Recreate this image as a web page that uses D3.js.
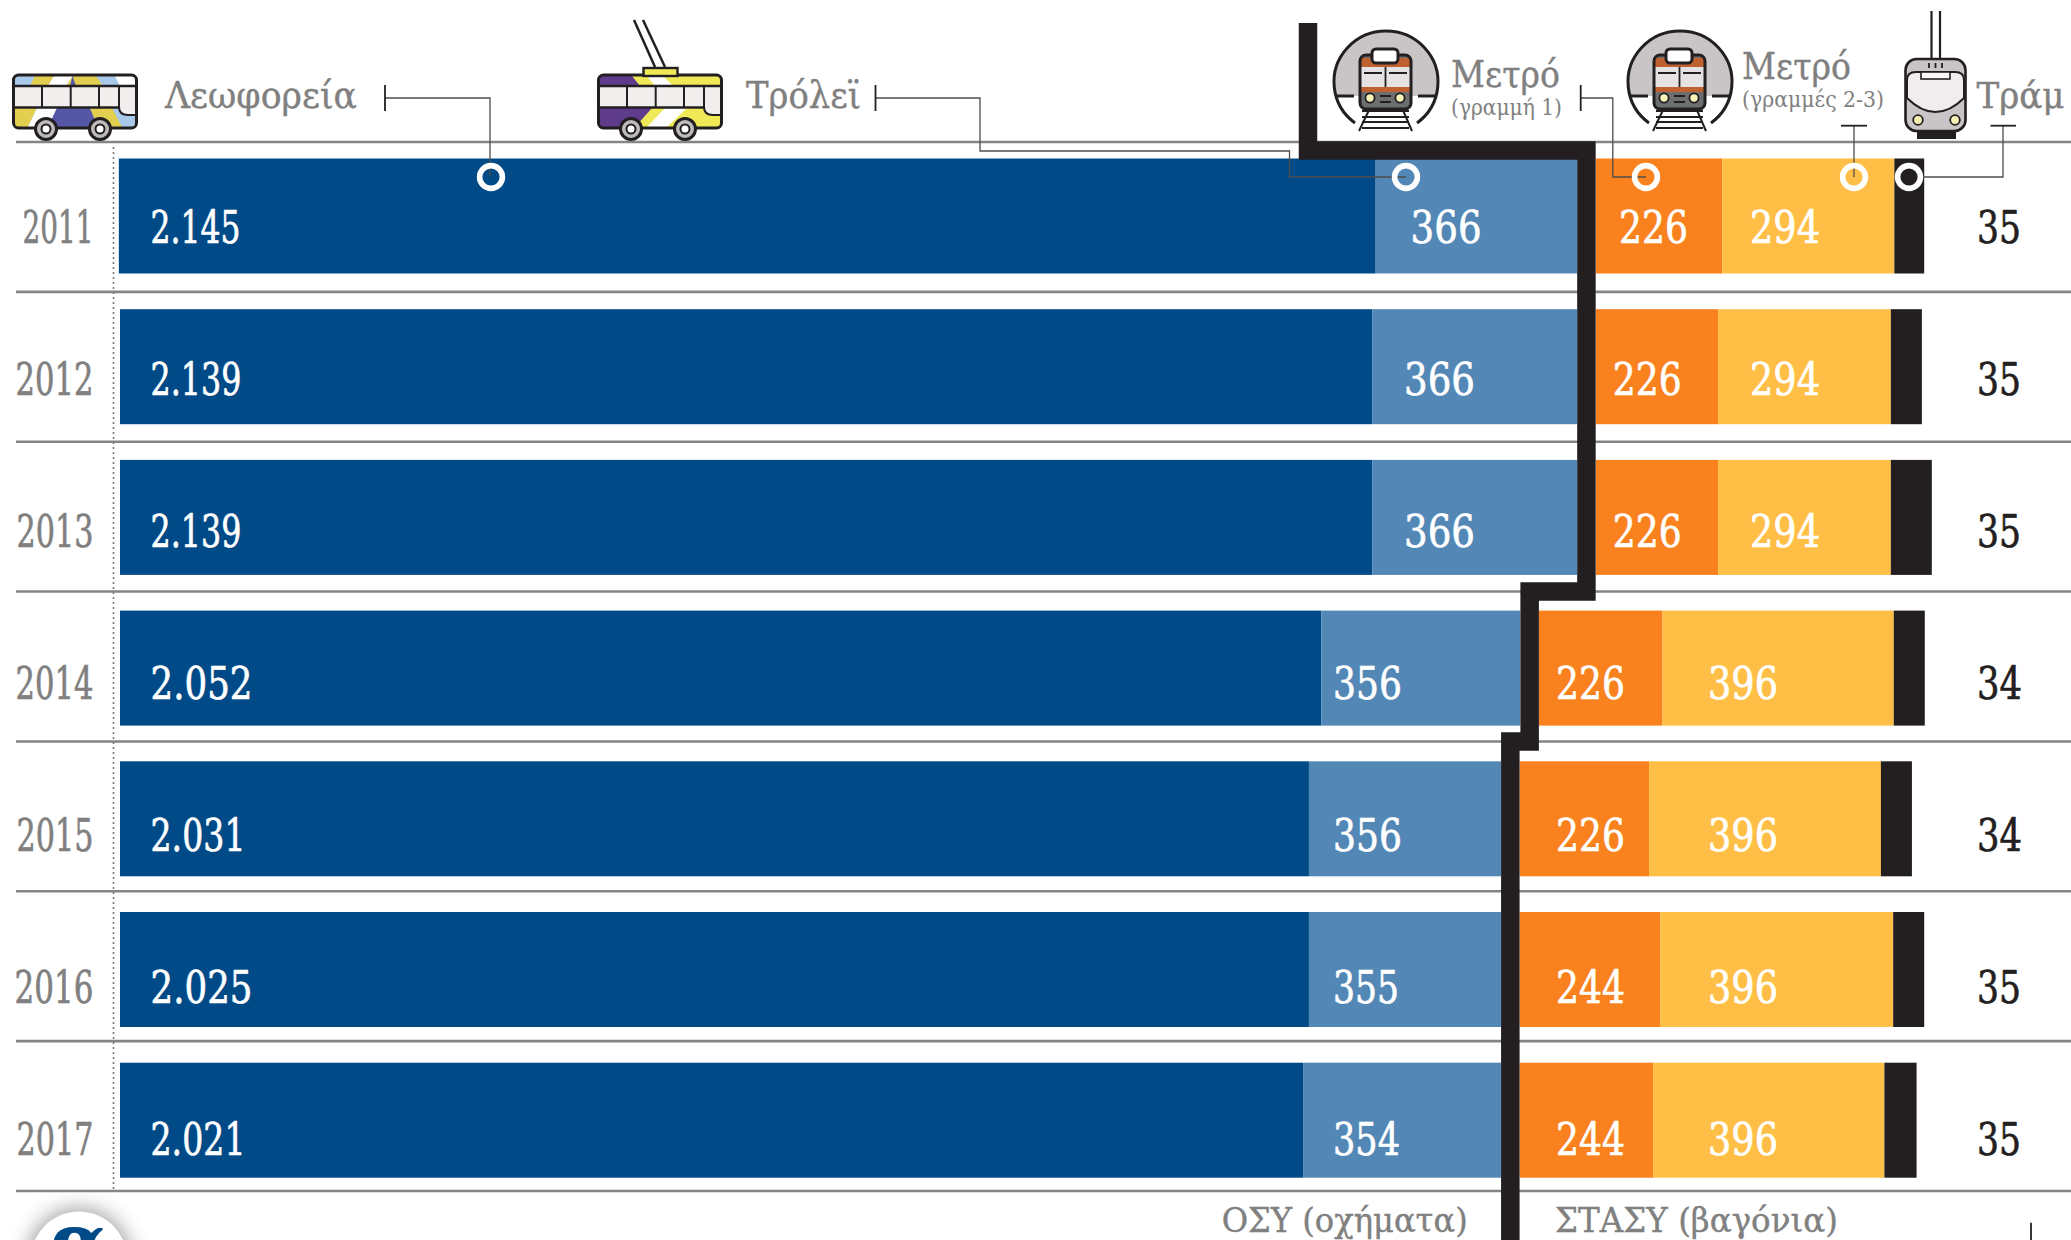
<!DOCTYPE html>
<html><head><meta charset="utf-8">
<style>html,body{margin:0;padding:0;background:#fff}svg{display:block}text{font-family:"DejaVu Serif",serif}</style>
<script src="https://cdn.jsdelivr.net/npm/d3@7"></script></head><body><div id="c"></div>
<script>
// Printed values
const years = ["2011","2012","2013","2014","2015","2016","2017"];
const busValues = ["2.145","2.139","2.139","2.052","2.031","2.025","2.021"];
const trolleyValues = [366,366,366,356,356,355,354];
const metro1Values = [226,226,226,226,226,244,244];
const metro23Values = [294,294,294,396,396,396,396];
const tramValues = [35,35,35,34,34,35,35];
// Bar lengths (the source bars are not strictly proportional to their labels)
const busLengths = [2145,2139,2139,2052,2031,2031,2021];
const trolleyLengths = [344,350,350,340,328,328,338];
const metro1Lengths = [216,209,209,211,221,240,228];
const metro23Lengths = [294,295,295,395,396,398,395];
const tramLengths = [51,53,70,53,53,53,55];
const dividerGap = 32;

const W=2071,H=1240, INK="#231f20", GREY="#808080";
const colors={bus:"#004a87",trolley:"#5287b6",metro1:"#f9821e",metro23:"#ffbf46",tram:INK};
const svg=d3.select("#c").append("svg").attr("width",W).attr("height",H).attr("viewBox",`0 0 ${W} ${H}`);
const defs=svg.append("defs");
const f=defs.append("filter").attr("id","sh").attr("x","-40%").attr("y","-40%").attr("width","180%").attr("height","180%");
f.append("feGaussianBlur").attr("stdDeviation",10);

const x=d3.scaleLinear().domain([0,3300]).range([120,120+3300*0.5854]);
const y=d3.scaleBand().domain(years).range([158.5,1177.7]).paddingInner(35.7/150.7).paddingOuter(0);

// rules
const ruleY=d3.scaleLinear().domain([0,7]).range([142,1191]);
svg.append("g").selectAll("line").data(d3.range(8)).join("line")
 .attr("x1",16).attr("x2",W).attr("y1",d=>ruleY(d)).attr("y2",d=>ruleY(d)).attr("stroke","#858585").attr("stroke-width",2.6);
svg.append("line").attr("x1",113.5).attr("x2",113.5).attr("y1",147).attr("y2",1190)
 .attr("stroke","#7a7a7a").attr("stroke-width",1.6).attr("stroke-dasharray","2 3");

// stacks
const rows=years.map((yr,i)=>{
  const a=busLengths[i], b=a+trolleyLengths[i], c=b+dividerGap, d=c+metro1Lengths[i], e=d+metro23Lengths[i], g=e+tramLengths[i];
  return {yr,i,segs:[[i===0?-2:0,a,colors.bus],[a,b,colors.trolley],[c,d,colors.metro1],[d,e,colors.metro23],[e,g,colors.tram]],b,c};
});
const rowG=svg.append("g").selectAll("g").data(rows).join("g");
rowG.selectAll("rect").data(d=>d.segs.map(s=>({s,yr:d.yr}))).join("rect")
 .attr("x",d=>x(d.s[0])).attr("width",d=>x(d.s[1])-x(d.s[0]))
 .attr("y",d=>y(d.yr)).attr("height",y.bandwidth()).attr("fill",d=>d.s[2]);

// stepped divider between OSY and STASY
const dm=rows.map(r=>x((r.b+r.c)/2));
const pts=[[1308,23],[1308,150.5],[dm[0],150.5],[dm[0],591.5],[dm[3],591.5],[dm[3],741.5],[dm[4],741.5],[dm[4],H+5]];
svg.append("path").attr("d",d3.line()(pts)).attr("fill","none").attr("stroke",INK).attr("stroke-width",18.5).attr("stroke-linejoin","miter");

// labels
const baseY=i=>242.5+i*152.1;
function fit(sel,str,px,py,w,fill,size,anchor,sw){
  return sel.append("text").attr("x",px).attr("y",py).attr("fill",fill).attr("font-size",size)
   .attr("text-anchor",anchor||"start").attr("stroke",sw?fill:"none").attr("stroke-width",sw||0)
   .attr("textLength",w).attr("lengthAdjust","spacingAndGlyphs").text(str);
}
const tg=svg.append("g");
const trolleyLabelX=[1410.6,1404,1404,1333,1333,1333,1333];
const metro1LabelX=[1619,1612.7,1612.7,1556,1556,1556,1556];
const metro23LabelX=[1750,1750,1750,1708,1708,1708,1708];
const yearW=[71,78,77,78,77,79,77], busW=[90,91,91,102,95,102,95], trolleyW=[71,71,71,69,69,66,67], tramW=[44,44,44,45,45,44,44];
const NUM=45, SW=.7;
years.forEach((yr,i)=>{
  const b=baseY(i);
  fit(tg,yr,93.5,b,yearW[i],GREY,NUM,"end",SW);
  fit(tg,busValues[i],150.5,b,busW[i],"#fff",NUM,"start",SW);
  fit(tg,trolleyValues[i],trolleyLabelX[i],b,trolleyW[i],"#fff",NUM,"start",SW);
  fit(tg,metro1Values[i],metro1LabelX[i],b,69,"#fff",NUM,"start",SW);
  fit(tg,metro23Values[i],metro23LabelX[i],b,70,"#fff",NUM,"start",SW);
  fit(tg,tramValues[i],1977,b,tramW[i],INK,NUM,"start",SW);
});

// header texts
const HD=38;
fit(tg,"Λεωφορεία",165,107.7,192,GREY,HD,"start",.4);
fit(tg,"Τρόλεϊ",746,107.7,115,GREY,HD,"start",.4);
fit(tg,"Μετρό",1451,86.7,109,GREY,HD,"start",.4);
fit(tg,"(γραμμή 1)",1451,115,111,GREY,23);
fit(tg,"Μετρό",1742,79,109,GREY,HD,"start",.4);
fit(tg,"(γραμμές 2-3)",1742,107,142,GREY,23);
fit(tg,"Τράμ",1976.5,107.7,88,GREY,35,"start",.4);
fit(tg,"ΟΣΥ (οχήματα)",1221.7,1232,246,GREY,33,"start",.4);
fit(tg,"ΣΤΑΣΥ (βαγόνια)",1555,1232,283,GREY,33,"start",.4);

// leader lines
const lead=svg.append("g").attr("fill","none").attr("stroke","#4d4d4d").attr("stroke-width",1.3);
[
 [[385,98],[490,98],[490,177]],
 [[875.5,98],[980,98],[980,151],[1289.5,151],[1289.5,177],[1406,177]],
 [[1580.7,98],[1612.8,98],[1612.8,177],[1646,177]],
 [[1854,125.7],[1854,177]],
 [[2003,125.7],[2003,177],[1909,177]]
].forEach(p=>lead.append("path").attr("d",d3.line()(p)));
const tick=svg.append("g").attr("stroke",INK).attr("stroke-width",1.8);
[[385,85,385,111],[875.5,85,875.5,111],[1580.7,85,1580.7,111],[1841,125.7,1867,125.7],[1990.5,125.7,2016,125.7],[2031,1222.7,2031,1245]]
 .forEach(l=>tick.append("line").attr("x1",l[0]).attr("y1",l[1]).attr("x2",l[2]).attr("y2",l[3]));
// ring markers
const ringData=[{cx:491,f:"none"},{cx:1406,f:"none"},{cx:1646,f:"none"},{cx:1854,f:"none"},{cx:1909,f:INK}];
svg.append("g").selectAll("circle").data(ringData).join("circle")
 .attr("cx",d=>d.cx).attr("cy",177).attr("r",11.4).attr("fill",d=>d.f).attr("stroke","#fff").attr("stroke-width",5.6);

// ---- icons ----
function vehicle(dx,top,low){
  const g=svg.append("g").attr("transform",`translate(${dx},0)`);
  g.append("rect").attr("x",13.5).attr("y",75).attr("width",123).attr("height",53).attr("rx",5).attr("fill","#fff");
  const poly=(pts,c)=>g.append("polygon").attr("points",pts).attr("fill",c);
  top.forEach(t=>poly(t[0],t[1]));
  low.forEach(t=>poly(t[0],t[1]));
  g.append("rect").attr("x",13.5).attr("y",86).attr("width",123).attr("height",22).attr("fill","#f1eeee");
  g.append("path").attr("d","M119,86V107Q119,115 128,115H136V86Z").attr("fill","#f1eeee");
  g.append("path").attr("d","M119,86V107Q119,115 128,115H136").attr("fill","none").attr("stroke",INK).attr("stroke-width",2);
  g.append("rect").attr("x",13.5).attr("y",75).attr("width",123).attr("height",53).attr("rx",5).attr("fill","none").attr("stroke",INK).attr("stroke-width",3);
  [86,107.5].forEach(yy=>g.append("line").attr("x1",13.5).attr("x2",yy<90?136:119).attr("y1",yy).attr("y2",yy).attr("stroke",INK).attr("stroke-width",2.4));
  [42,70.7,99,119].forEach(xx=>g.append("line").attr("x1",xx).attr("x2",xx).attr("y1",86).attr("y2",107.5).attr("stroke",INK).attr("stroke-width",2));
  [46,100].forEach(c=>{
    g.append("circle").attr("cx",c).attr("cy",129).attr("r",10.5).attr("fill","#bdbbbb").attr("stroke",INK).attr("stroke-width",3);
    g.append("circle").attr("cx",c).attr("cy",129).attr("r",4.5).attr("fill","#fff").attr("stroke",INK).attr("stroke-width",2);
  });
  return g;
}
vehicle(0,[
 ["15,76 135,76 135,86 15,86","#a9c9eb"],
 ["35,76 54,76 48,86 30,86","#e2cf4f"],
 ["54,76 73,76 66,86 48,86","#fff"],
 ["73,76 96,76 103,86 66,86","#e2cf4f"],
 ["70,86 72.5,76 76,86","#5557a5"],
 ["115,76 135,76 135,86 120,86","#fff"]
],[
 ["15,108 137,108 137,127 15,127","#a9c9eb"],
 ["15,108 37,108 28,127 15,127","#e2cf4f"],
 ["37,108 57,108 48,127 28,127","#fff"],
 ["57,108 90,108 98,127 48,127","#5557a5"],
 ["90,108 112,108 122,127 98,127","#e2cf4f"]
]);
vehicle(585,[
 ["15,76 135,76 135,86 15,86","#efe857"],
 ["15,76 47,76 55,86 15,86","#5f3b8c"],
 ["62,76 78,76 88,86 70,86","#fff"]
],[
 ["15,108 137,108 137,127 15,127","#efe857"],
 ["15,108 67,108 50,127 15,127","#5f3b8c"],
 ["80,108 102,108 82,127 62,127","#fff"]
]);
const trG=svg.append("g");
trG.append("rect").attr("x",643.5).attr("y",68).attr("width",34).attr("height",8).attr("fill","#efe857").attr("stroke",INK).attr("stroke-width",2.4);
[[634,20,655,67],[643,20,665,67]].forEach(l=>trG.append("line").attr("x1",l[0]).attr("y1",l[1]).attr("x2",l[2]).attr("y2",l[3]).attr("stroke",INK).attr("stroke-width",2.5));

function metro(dx){
  const g=svg.append("g").attr("transform",`translate(${dx},0)`);
  const cx=1386,rx=52,ry=51,cy=82;
  const yCut=96, a=Math.sqrt(1-((yCut-cy)/ry)**2)*rx;
  g.append("path").attr("d",`M${cx-a},${yCut}A${rx},${ry} 0 1 1 ${cx+a},${yCut}Z`).attr("fill","#c8c5c6");
  const ex=31, ey=cy+ry*Math.sqrt(1-(ex/rx)**2);
  g.append("path").attr("d",`M${cx-ex},${ey}A${rx},${ry} 0 1 1 ${cx+ex},${ey}`).attr("fill","none").attr("stroke",INK).attr("stroke-width",3);
  [[1335,1354],[1418,1437]].forEach(l=>g.append("line").attr("x1",l[0]).attr("x2",l[1]).attr("y1",96).attr("y2",96).attr("stroke",INK).attr("stroke-width",3));
  [111,117,122,128].forEach(yy=>g.append("line").attr("x1",1362).attr("x2",1409).attr("y1",yy).attr("y2",yy).attr("stroke",INK).attr("stroke-width",1.8));
  [[1370,108,1359,131],[1402,108,1412,131]].forEach(l=>g.append("line").attr("x1",l[0]).attr("y1",l[1]).attr("x2",l[2]).attr("y2",l[3]).attr("stroke",INK).attr("stroke-width",2));
  g.append("rect").attr("x",1360).attr("y",55).attr("width",51).attr("height",54).attr("rx",6).attr("fill","#6d6e70");
  g.append("rect").attr("x",1361).attr("y",58).attr("width",49).attr("height",9).attr("fill","#c0622f");
  g.append("rect").attr("x",1361).attr("y",67).attr("width",49).attr("height",20).attr("fill","#e5e2e3");
  g.append("rect").attr("x",1361).attr("y",87).attr("width",49).attr("height",5).attr("fill","#c0622f");
  g.append("rect").attr("x",1360).attr("y",55).attr("width",51).attr("height",54).attr("rx",6).attr("fill","none").attr("stroke",INK).attr("stroke-width",3);
  g.append("line").attr("x1",1385.5).attr("x2",1385.5).attr("y1",67).attr("y2",87).attr("stroke",INK).attr("stroke-width",1.8);
  [[1364,1382],[1389,1407]].forEach(l=>g.append("line").attr("x1",l[0]).attr("x2",l[1]).attr("y1",73).attr("y2",73).attr("stroke",INK).attr("stroke-width",2));
  [[1380,1391,96],[1380,1391,102]].forEach(l=>g.append("line").attr("x1",l[0]).attr("x2",l[1]).attr("y1",l[2]).attr("y2",l[2]).attr("stroke",INK).attr("stroke-width",2));
  g.append("rect").attr("x",1372).attr("y",49).attr("width",26).attr("height",14).attr("rx",4).attr("fill","#fff").attr("stroke",INK).attr("stroke-width",3);
  [1370,1400].forEach(c=>g.append("circle").attr("cx",c).attr("cy",98).attr("r",4.6).attr("fill","#f6f2b5").attr("stroke",INK).attr("stroke-width",1.8));
}
metro(0); metro(294);

// tram
const tm=svg.append("g");
[1931.5,1940].forEach(c=>tm.append("line").attr("x1",c).attr("x2",c).attr("y1",11).attr("y2",60).attr("stroke",INK).attr("stroke-width",2.2));
tm.append("rect").attr("x",1917).attr("y",128).attr("width",39).attr("height",11).attr("fill",INK);
tm.append("rect").attr("x",1905.5).attr("y",59).attr("width",60).attr("height",72).attr("rx",11).attr("fill","#c8c5c6").attr("stroke",INK).attr("stroke-width",2.6);
tm.append("path").attr("d","M1907,80Q1907,72 1916,72H1955Q1964,72 1964,80V98Q1950,112 1935.5,112Q1921,112 1907,98Z").attr("fill","#f0edee").attr("stroke",INK).attr("stroke-width",2);
tm.append("rect").attr("x",1921).attr("y",72).attr("width",29).attr("height",7).attr("fill","#f7f5f5").attr("stroke",INK).attr("stroke-width",1.6);
[1929,1935.5,1942].forEach(c=>tm.append("line").attr("x1",c).attr("x2",c).attr("y1",63).attr("y2",68).attr("stroke",INK).attr("stroke-width",1.8));
[1918,1955].forEach(c=>tm.append("circle").attr("cx",c).attr("cy",120).attr("r",4.8).attr("fill","#f6f2b5").attr("stroke",INK).attr("stroke-width",1.8));

// logo
svg.append("circle").attr("cx",79).attr("cy",1260).attr("r",52).attr("fill","#8a8a8a").attr("filter","url(#sh)").attr("opacity",.8);
svg.append("circle").attr("cx",79).attr("cy",1260).attr("r",48.5).attr("fill","#fff");
svg.append("text").attr("x",79).attr("y",1268).attr("text-anchor","middle").attr("font-size",76).attr("font-weight",700).attr("fill",colors.bus).text("α");
</script></body></html>
